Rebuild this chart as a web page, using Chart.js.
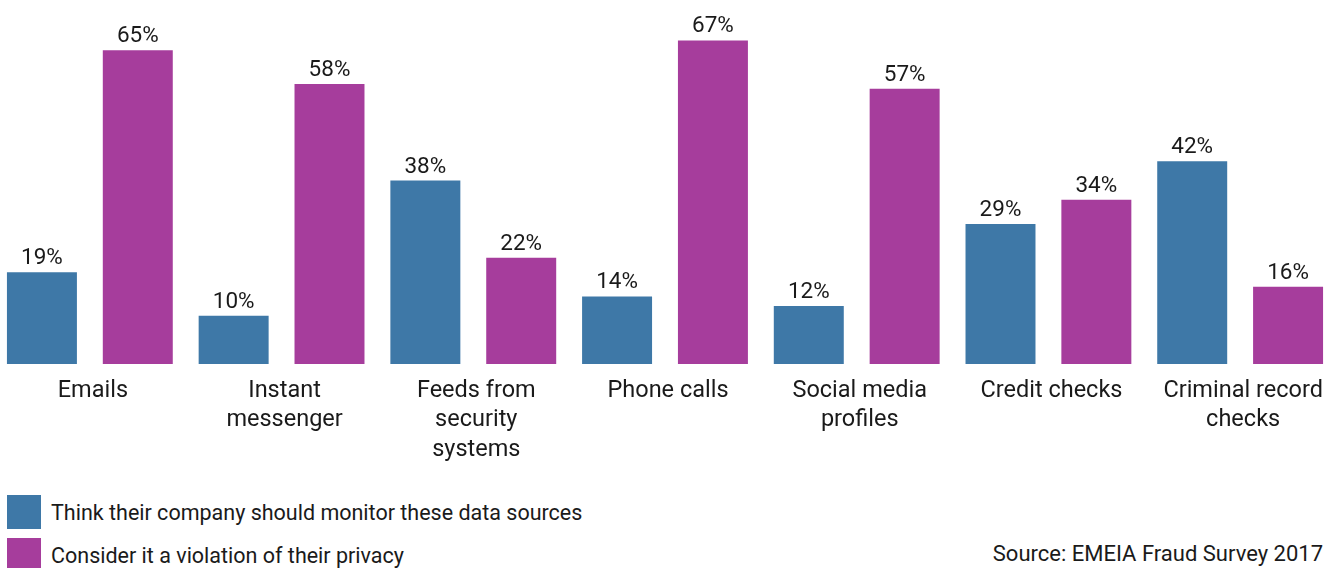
<!DOCTYPE html>
<html>
<head>
<meta charset="utf-8">
<script src="https://cdn.jsdelivr.net/npm/chart.js@4"></script>
<style>
  html, body { margin: 0; padding: 0; background: #fff; }
  body { width: 1341px; height: 568px; position: relative; overflow: hidden; font-family: Roboto, sans-serif; color: #1a1a1a; }
  #wrap { position: absolute; left: -6px; top: 0; width: 1342px; height: 464px; }
  .leg { position: absolute; left: 7px; height: 34px; display: flex; align-items: center; font-size: 21.5px; }
  .sw { width: 34px; height: 34px; margin-right: 10px; }
  #src { position: absolute; right: 18px; top: 541px; font-size: 22px; }
</style>
</head>
<body>
<div id="wrap"><canvas id="c" width="1342" height="464"></canvas></div>
<div class="leg" style="top:495px;"><div class="sw" style="background:#3e78a7"></div>Think their company should monitor these data sources</div>
<div class="leg" style="top:538px;"><div class="sw" style="background:#a63d9c"></div>Consider it a violation of their privacy</div>
<div id="src">Source: EMEIA Fraud Survey 2017</div>
<script>
const categories = [
  'Emails',
  ['Instant', 'messenger'],
  ['Feeds from', 'security', 'systems'],
  'Phone calls',
  ['Social media', 'profiles'],
  'Credit checks',
  ['Criminal record', 'checks']
];
const monitorValues = [19, 10, 38, 14, 12, 29, 42];
const violationValues = [65, 58, 22, 67, 57, 34, 16];
const seriesNames = ['Think their company should monitor these data sources', 'Consider it a violation of their privacy'];
const colors = ['#3e78a7', '#a63d9c'];

const valueLabels = {
  id: 'valueLabels',
  afterDatasetsDraw(chart) {
    const ctx = chart.ctx;
    ctx.save();
    ctx.font = '22.5px Roboto, sans-serif';
    ctx.fillStyle = '#1a1a1a';
    ctx.textAlign = 'center';
    ctx.textBaseline = 'alphabetic';
    chart.data.datasets.forEach((ds, i) => {
      chart.getDatasetMeta(i).data.forEach((bar, j) => {
        ctx.fillText(ds.data[j] + '%', bar.x, bar.y - 8);
      });
    });
    ctx.restore();
  }
};

new Chart(document.getElementById('c'), {
  type: 'bar',
  data: {
    labels: categories,
    datasets: [
      { label: seriesNames[0], data: monitorValues, backgroundColor: colors[0] },
      { label: seriesNames[1], data: violationValues, backgroundColor: colors[1] }
    ]
  },
  options: {
    responsive: false,
    animation: false,
    devicePixelRatio: 1,
    layout: { padding: { top: 26, left: 0, right: 0, bottom: 0 } },
    datasets: { bar: { categoryPercentage: 1.0, barPercentage: 0.73 } },
    plugins: { legend: { display: false }, tooltip: { enabled: false } },
    scales: {
      y: { display: false, min: 0, max: 70 },
      x: {
        grid: { display: false, drawTicks: false },
        border: { display: false },
        ticks: {
          autoSkip: false, maxRotation: 0, minRotation: 0,
          color: '#1a1a1a',
          font: { family: 'Roboto, sans-serif', size: 23.5, lineHeight: 1.255 },
          padding: 12,
          labelOffset: 3
        },
        afterFit(scale) { scale.height = 100; }
      }
    }
  },
  plugins: [valueLabels]
});
</script>
</body>
</html>
